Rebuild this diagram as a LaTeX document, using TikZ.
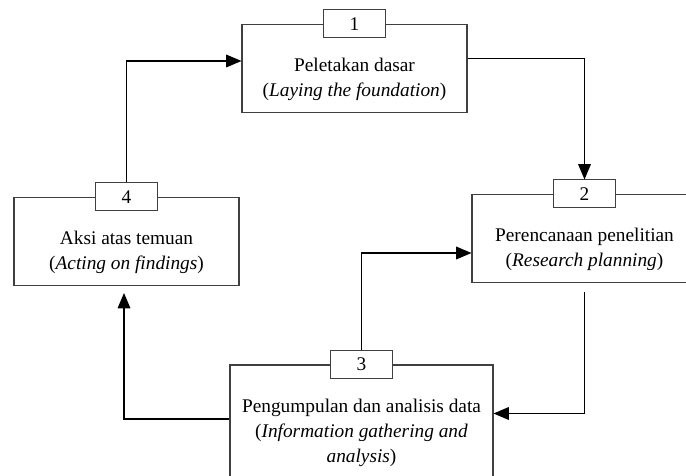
\documentclass[tikz,border=0pt]{standalone}
\usepackage{fontspec}
\setmainfont{Liberation Serif}
\usetikzlibrary{arrows, positioning}
\tikzstyle{stage} = [rectangle, minimum width=4.5cm, minimum height=1.76cm, draw=black!75, line width=0.6pt]
\tikzstyle{numbox} = [rectangle, minimum width=1.24cm, minimum height=0.56cm, draw=black!75, line width=0.6pt, fill=white, font=\fontsize{11}{12}\selectfont]
\tikzstyle{txt} = [align=center, font=\fontsize{11}{14.2}\selectfont]
\tikzstyle{arrow} = [line width=1pt, ->, >=triangle 45]

\begin{document}
\begin{tikzpicture}
  \clip (0,0) rectangle (13.72,9.5);
  \node (S1) [stage] at (7.09,8.13) {};
  \node (S2) [stage] at (11.69,4.73) {};
  \node (S3) [stage, minimum width=5.26cm, minimum height=2.6cm] at (7.23,0.9) {};
  \node (S4) [stage] at (2.53,4.67) {};

  \node (N1) [numbox] at (S1.north) {1};
  \node (N2) [numbox] at (S2.north) {2};
  \node (N3) [numbox] at (S3.north) {3};
  \node (N4) [numbox] at (S4.north) {4};

  \node (T1) [txt, below=2.7mm of N1] {Peletakan dasar\\(\textit{Laying the foundation})};
  \node (T2) [txt, below=2.7mm of N2] {Perencanaan penelitian\\(\textit{Research planning})};
  \node (T3) [txt, below=2.7mm of N3] {Pengumpulan dan analisis data\\(\textit{Information gathering and}\\\textit{analysis})};
  \node (T4) [txt, below=2.7mm of N4] {Aksi atas temuan\\(\textit{Acting on findings})};

  \draw [arrow] (N4.north) |- ([yshift=1.5mm]S1.west);
  \draw [arrow] ([yshift=2mm]S1.east) -| (N2.north);
  \draw [arrow] ([yshift=-1.8mm]S2.south) |- ([yshift=3.3mm]S3.east);
  \draw [arrow] (N3.north) |- ([yshift=-2.9mm]S2.west);
  \draw [arrow] ([yshift=2.2mm]S3.west) -| ([xshift=-0.5mm, yshift=-1.4mm]S4.south);
\end{tikzpicture}
\end{document}
